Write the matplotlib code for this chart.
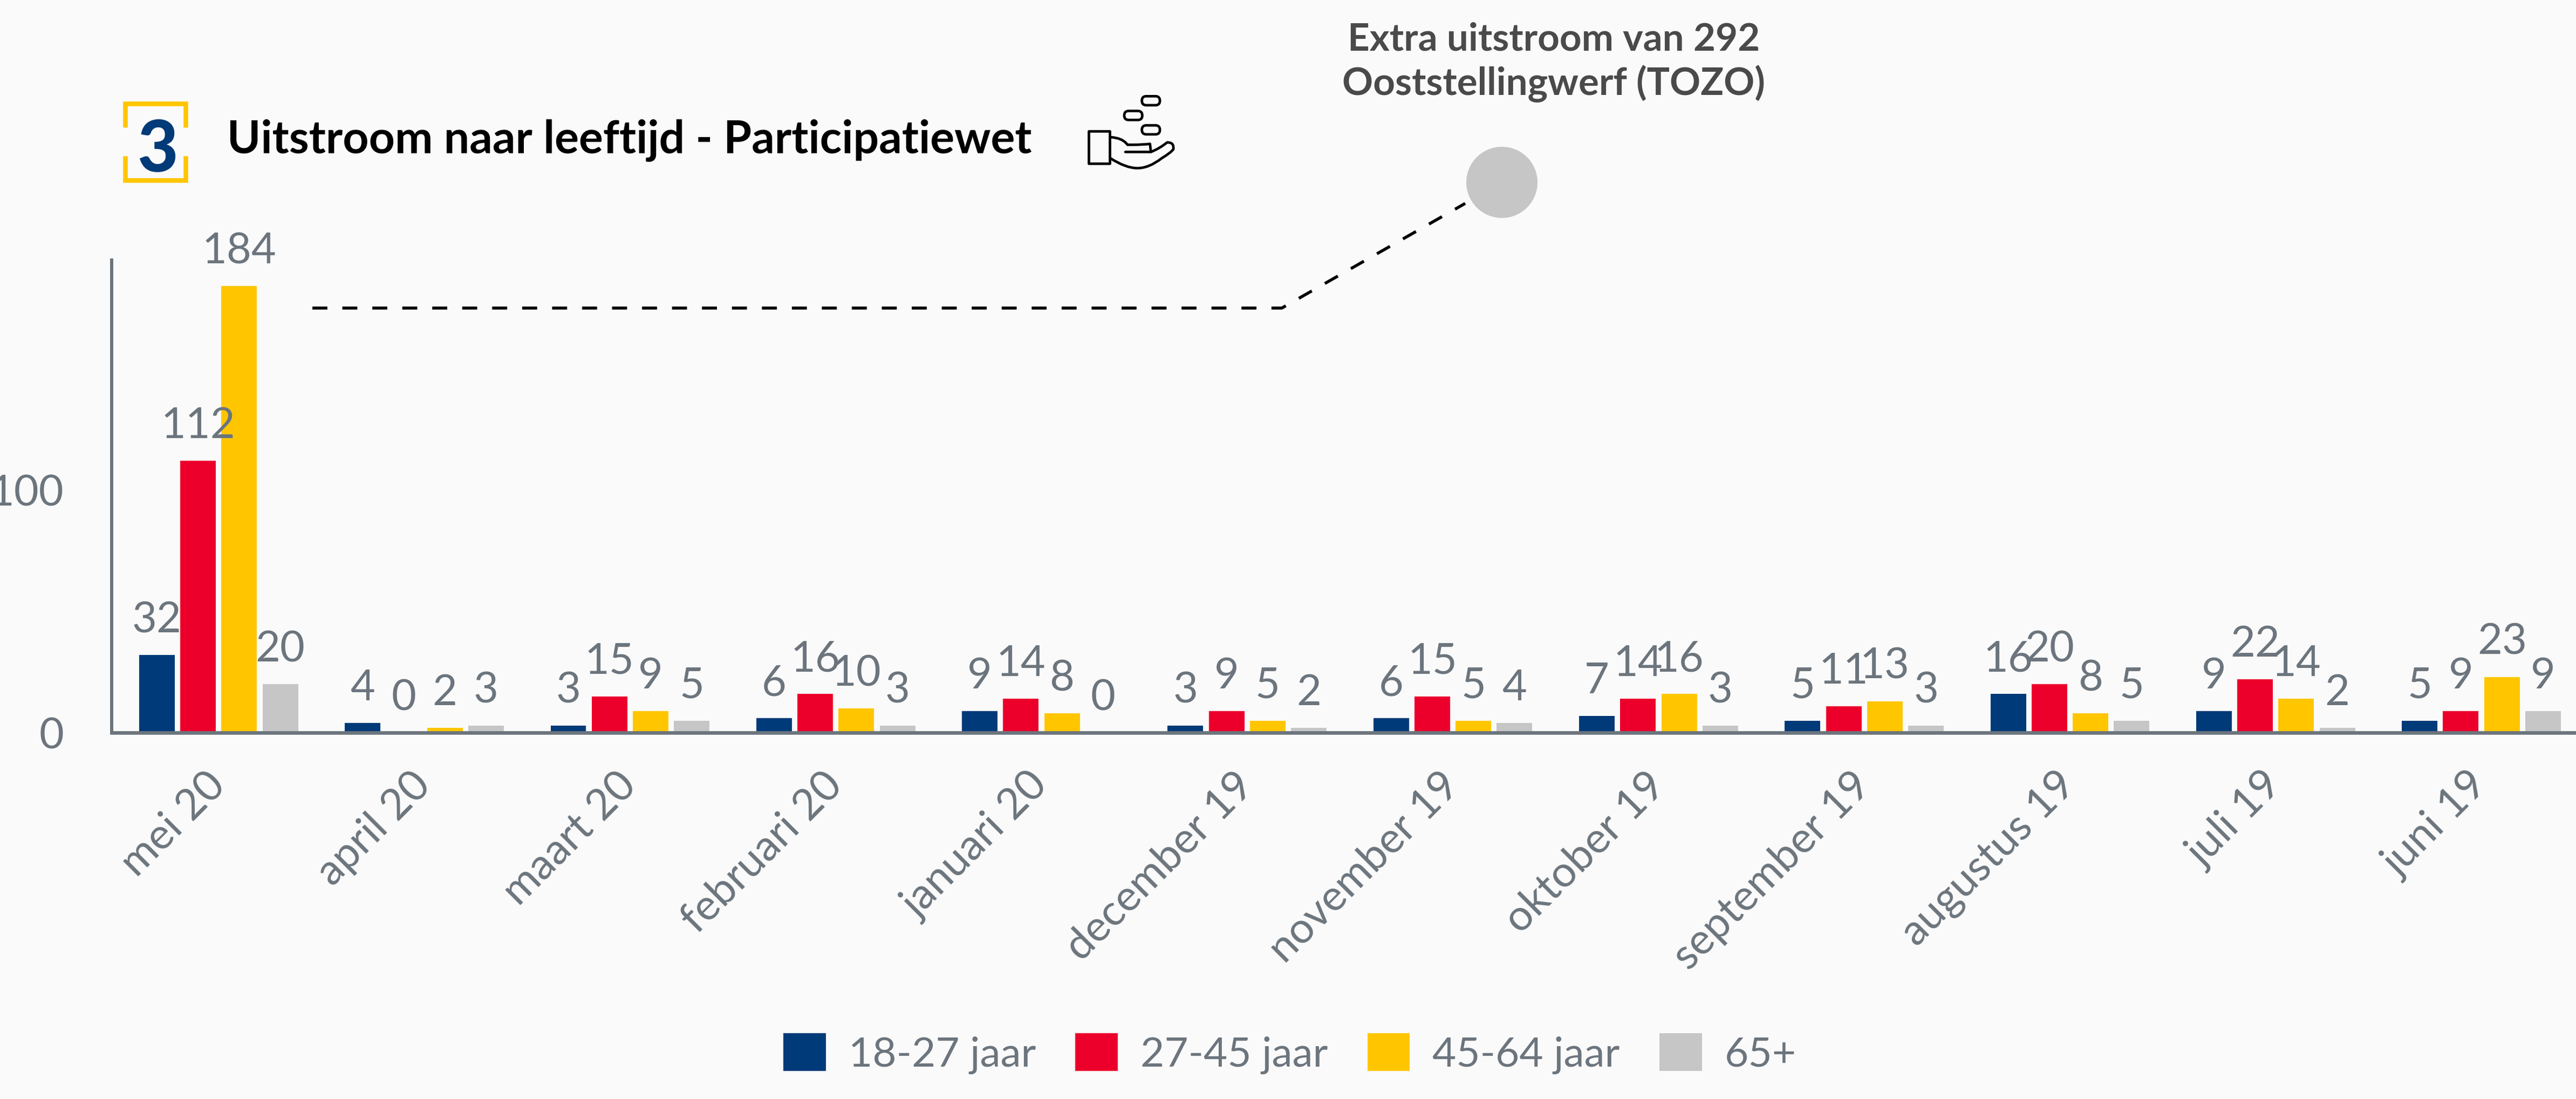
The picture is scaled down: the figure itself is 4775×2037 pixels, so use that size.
import numpy as np
import matplotlib
matplotlib.use("Agg")
import matplotlib.pyplot as plt
from matplotlib.legend_handler import HandlerPatch
from matplotlib.patches import Ellipse, FancyBboxPatch, PathPatch, Rectangle
from matplotlib.path import Path

months = ["mei 20", "april 20", "maart 20", "februari 20", "januari 20", "december 19",
          "november 19", "oktober 19", "september 19", "augustus 19", "juli 19", "juni 19"]
groups = ["18-27 jaar", "27-45 jaar", "45-64 jaar", "65+"]
jong = [32, 4, 3, 6, 9, 3, 6, 7, 5, 16, 9, 5]
midden = [112, 0, 15, 16, 14, 9, 15, 14, 11, 20, 22, 9]
ouder = [184, 2, 9, 10, 8, 5, 5, 16, 13, 8, 14, 23]
senior = [20, 3, 5, 3, 0, 2, 4, 3, 3, 5, 2, 9]
yticks = [0, 100]

colors = ["#003A78", "#EC002B", "#FFC600", "#C6C6C6"]
grey = "#6C757D"
bg = "#FAFAFA"
W, H = 4775, 2037

plt.rcParams["font.family"] = ["Lato", "DejaVu Sans"]

fig = plt.figure(figsize=(W / 100, H / 100), dpi=100, facecolor=bg)
ax = fig.add_axes([207 / W, 1 - 1358 / H, (W - 207) / W, (1358 - 482) / H], facecolor="none")

x = np.arange(len(months))
series = [jong, midden, ouder, senior]
for i, vals in enumerate(series):
    ax.bar(x + (i - 1.5) * 0.2, vals, width=0.173, color=colors[i], label=groups[i])
    for xi, v in zip(x + (i - 1.5) * 0.2, vals):
        ax.annotate(str(v), (xi, v), xytext=(0, 30), textcoords="offset points",
                    ha="center", va="baseline", fontsize=57, color=grey)

ax.set_xlim(-0.52, 11.46)
ax.set_ylim(0, 194.7)
ax.set_yticks(yticks)
ax.set_xticks(x)
ax.set_xticklabels(months, rotation=45, ha="right", va="center", rotation_mode="anchor")
ax.tick_params(axis="y", length=0, pad=64, labelsize=57, labelcolor=grey)
ax.tick_params(axis="x", length=0, pad=62, labelsize=57, labelcolor=grey)
ax.spines["top"].set_visible(False)
ax.spines["right"].set_visible(False)
ax.spines["left"].set_color(grey)
ax.spines["left"].set_linewidth(4.3)
ax.spines["bottom"].set_color(grey)
ax.spines["bottom"].set_linewidth(4.8)


def rounded_handle(legend, orig, xd, yd, w, h, fs):
    r = 6
    return FancyBboxPatch((-xd + r, -yd + r + 4), w - 2 * r, h - 2 * r,
                          boxstyle="round,pad=%d,rounding_size=%d" % (r, r), linewidth=0)


leg = ax.legend(handler_map={Rectangle: HandlerPatch(patch_func=rounded_handle)}, ncol=4, frameon=False,
                fontsize=55, handlelength=1.03, handleheight=1.03, handletextpad=0.55, columnspacing=0.96,
                loc="center", bbox_to_anchor=(2391 / W, 1 - 1953 / H), bbox_transform=fig.transFigure,
                borderpad=0, borderaxespad=0, labelcolor=grey)

# header, badge, icon and callout sit on a pixel-sized overlay
ov = fig.add_axes([0, 0, 1, 1], facecolor="none")
ov.set_xlim(0, W)
ov.set_ylim(H, 0)
ov.axis("off")

ov.text(421, 283, "Uitstroom naar leeftijd - Participatiewet", fontsize=60.5, fontweight="bold",
        color="black", va="baseline", ha="left")
ov.text(292, 318, "3", fontsize=94, fontweight="black", color=colors[0], va="baseline", ha="center")

for ys in ([236, 192, 192, 236], [289, 334, 334, 289]):
    ov.plot([232, 232, 344, 344], ys, color=colors[2], lw=6.2, solid_capstyle="butt", solid_joinstyle="miter")

ov.text(2880, 93, "Extra uitstroom van 292", fontsize=51, fontweight="bold", color="#4A4A4A",
        ha="center", va="baseline")
ov.text(2880, 176, "Ooststellingwerf (TOZO)", fontsize=51, fontweight="bold", color="#4A4A4A",
        ha="center", va="baseline")
ov.add_patch(Ellipse((2784, 338), 132, 132, color=colors[3], lw=0))
ov.plot([579, 2376, 2716], [571, 571, 377], color="black", lw=4.0, dashes=(5, 5), dash_capstyle="butt")

# hand icon, traced in pixels of the 3x crop at (1990, 160)
def ic(px, py):
    return 1990 + px / 3, 160 + py / 3


icon = dict(edgecolor="black", facecolor="none", lw=3.4, joinstyle="round", capstyle="round")
for cx, cy in [(430, 80), (332, 162), (430, 242)]:
    x0, y0 = ic(cx - 50, cy - 25)
    x1, y1 = ic(cx + 50, cy + 25)
    ov.add_patch(FancyBboxPatch((x0 + 6, y0 + 6), x1 - x0 - 12, y1 - y0 - 12,
                                boxstyle="round,pad=6,rounding_size=8", **icon))
x0, y0 = ic(85, 248)
x1, y1 = ic(200, 430)
ov.add_patch(Rectangle((x0, y0), x1 - x0, y1 - y0, **icon))
hand = [(205, 283), (270, 285), (300, 325), (330, 325), (385, 325), (425, 320), (430, 365)]
ov.add_patch(PathPatch(Path([ic(*p) for p in hand],
                            [Path.MOVETO, Path.CURVE3, Path.CURVE3, Path.LINETO, Path.CURVE3, Path.CURVE3, Path.LINETO]), **icon))
palm = [(288, 365), (430, 365), (480, 345), (520, 312), (560, 310), (555, 350), (540, 370), (490, 400),
        (420, 455), (355, 455), (290, 455), (205, 400)]
ov.add_patch(PathPatch(Path([ic(*p) for p in palm],
                            [Path.MOVETO, Path.LINETO, Path.CURVE3, Path.CURVE3, Path.CURVE3, Path.CURVE3,
                             Path.CURVE3, Path.CURVE3, Path.CURVE3, Path.CURVE3, Path.CURVE3, Path.CURVE3]), **icon))

fig.savefig("out.png", dpi=100, facecolor=bg)
